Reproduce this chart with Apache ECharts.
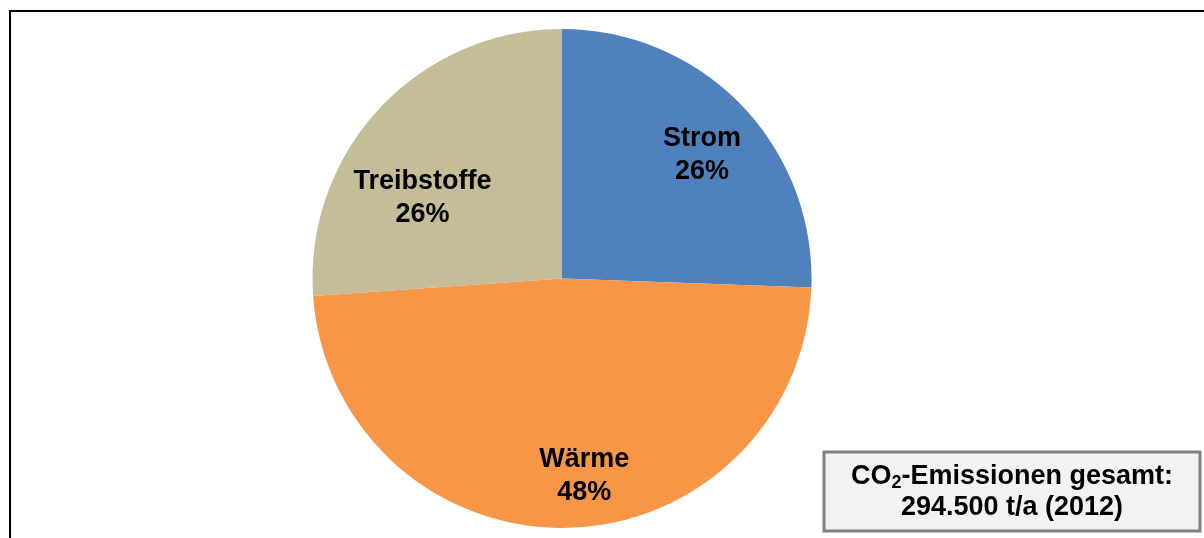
<!DOCTYPE html>
<html>
<head>
<meta charset="utf-8">
<script src="https://cdn.jsdelivr.net/npm/echarts@6/dist/echarts.min.js"></script>
<style>
    html, body { margin: 0; padding: 0; background: #fff; }
    #chart { width: 1204px; height: 538px; }
</style>
</head>
<body>
<div id="chart"></div>
<script>
// CO2-Emissionen nach Sektor, t/a (2012)
var categories = ['Strom', 'Wärme', 'Treibstoffe'];
var emissions = [75300, 142300, 76900];
var totalText = '294.500 t/a (2012)';

var colors = ['#4f81bd', '#f79646', '#c4bd97'];
var fontName = '"Liberation Sans", Arial, sans-serif';
// Verschiebung der Beschriftungen wie im Original
var labelOffsets = [[48, -35], [20, 70], [-46, 7]];

var chart = echarts.init(document.getElementById('chart'));

var pieData = [];
for (var i = 0; i < categories.length; i++) {
    pieData.push({
        name: categories[i],
        value: emissions[i],
        itemStyle: { color: colors[i] },
        label: { offset: labelOffsets[i] }
    });
}

var option = {
    animation: false,
    backgroundColor: '#fff',
    graphic: [
        {
            type: 'rect',
            shape: { x: 10, y: 11, width: 1400, height: 800 },
            style: { fill: 'none', stroke: '#000', lineWidth: 2 },
            silent: true
        },
        {
            type: 'rect',
            shape: { x: 824, y: 452, width: 376, height: 79 },
            style: { fill: '#f2f2f2', stroke: '#808080', lineWidth: 3 },
            z: 10,
            silent: true
        },
        {
            type: 'text',
            x: 1012,
            y: 492,
            z: 11,
            silent: true,
            style: {
                text: 'CO{sub|2}-Emissionen gesamt:\n' + totalText,
                align: 'center',
                verticalAlign: 'middle',
                fontFamily: fontName,
                fontWeight: 'bold',
                fontSize: 27,
                lineHeight: 31,
                fill: '#000',
                rich: {
                    sub: {
                        fontFamily: fontName,
                        fontWeight: 'bold',
                        fontSize: 18,
                        padding: [13, 0, 0, 0],
                        fill: '#000'
                    }
                }
            }
        }
    ],
    series: [{
        type: 'pie',
        center: [562, 278.5],
        radius: 249.5,
        startAngle: 90,
        clockwise: true,
        percentPrecision: 0,
        avoidLabelOverlap: false,
        label: {
            show: true,
            position: 'inside',
            formatter: '{b}\n{d}%',
            fontFamily: fontName,
            fontWeight: 'bold',
            fontSize: 27,
            lineHeight: 33,
            color: '#000'
        },
        labelLine: { show: false },
        itemStyle: { borderWidth: 0 },
        emphasis: { disabled: true },
        data: pieData
    }]
};

chart.setOption(option);
</script>
</body>
</html>
